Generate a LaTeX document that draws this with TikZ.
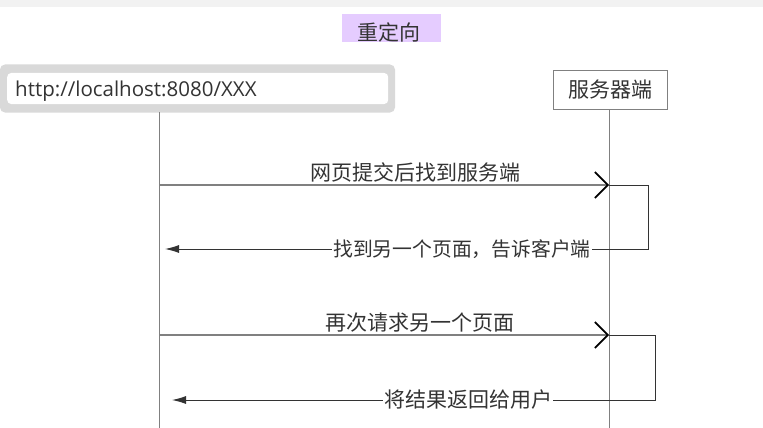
\documentclass[tikz,border=0pt]{standalone}
\usepackage{fontspec}
\setmainfont{Noto Sans CJK SC}
\newfontfamily\urlfont{Open Sans}
\usetikzlibrary{arrows.meta}
\definecolor{bandgray}{HTML}{F2F2F2}
\definecolor{titlebg}{HTML}{E5CCFF}
\definecolor{bargray}{HTML}{D9D9D9}
\definecolor{linegray}{HTML}{808080}
\definecolor{retgray}{HTML}{333333}
\definecolor{txtgray}{HTML}{333333}

\begin{document}
\begin{tikzpicture}[x=1pt,y=-1pt,font=\fontsize{21}{25}\selectfont,
  life/.style={draw=linegray,line width=1pt},
  msg/.style={draw=linegray,line width=2.4pt,-{Straight Barb[length=13pt,width=26pt,line width=1.6pt,color=black]}},
  ret/.style={draw=retgray,line width=1pt,-{Latex[length=14pt,width=8pt]}},
  lbl/.style={text=txtgray,inner sep=1pt}]
\useasboundingbox (0,0) rectangle (763,428);
\fill[bandgray] (0,0) rectangle (763,7);
% title
\fill[titlebg] (342,14) rectangle (441,42);
\node[lbl,name=title] at (389,32) {重定向};
% client and server
\node[fill=bargray,rounded corners=5pt,minimum width=395pt,minimum height=48pt,inner sep=0pt,name=bar] at (197.5,88.5) {};
\node[fill=white,rounded corners=4pt,inner xsep=8pt,inner ysep=0pt,text width=365pt,minimum height=31pt,text height=18pt,text depth=2pt,anchor=west,text=txtgray,font=\urlfont\fontsize{20.5}{24}\selectfont,name=url] at (7,88.5) {http://localhost:8080/XXX};
\node[draw=linegray,fill=white,line width=1pt,minimum width=114pt,minimum height=38pt,inner sep=0pt,text=txtgray,name=srv] at (610,90) {服务器端};
\coordinate (cltop) at (159,112);
\coordinate (clbot) at (159,428);
\coordinate (svbot) at (609,428);
\draw[life] (cltop) -- (clbot);
\draw[life] (srv.south -| svbot) -- (svbot);
% first round
\coordinate (m1a) at (159,185);
\coordinate (m1b) at (609,185);
\coordinate (r1c) at (648,185);
\coordinate (r1d) at (648,249);
\coordinate (r1e) at (165,249);
\draw[msg] (m1a) -- node[lbl,pos=0.57,above=1pt] {网页提交后找到服务端} (m1b);
\draw[ret] (m1b) -- (r1c) -- (r1d) -- node[lbl,fill=white,pos=0.385,font=\fontsize{19.8}{24}\selectfont] {找到另一个页面，告诉客户端} (r1e);
% second round
\coordinate (m2a) at (159,335);
\coordinate (m2b) at (609,335);
\coordinate (r2c) at (655,335);
\coordinate (r2d) at (655,400);
\coordinate (r2e) at (172,400);
\draw[msg] (m2a) -- node[lbl,pos=0.58,above=1pt] {再次请求另一个页面} (m2b);
\draw[ret] (m2b) -- (r2c) -- (r2d) -- node[lbl,fill=white,pos=0.387] {将结果返回给用户} (r2e);
\end{tikzpicture}
\end{document}
